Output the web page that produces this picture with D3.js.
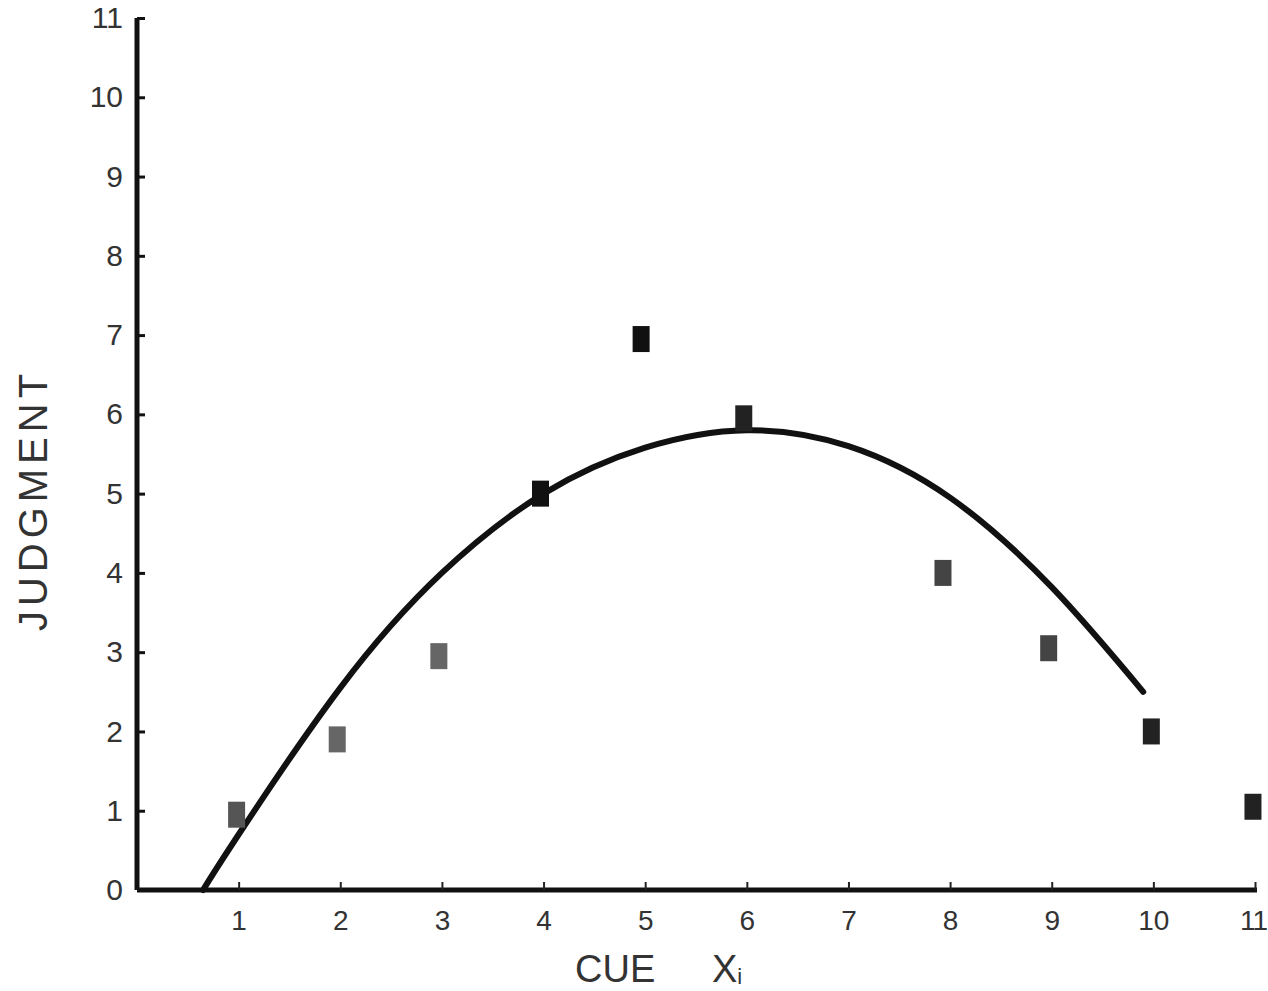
<!DOCTYPE html>
<html>
<head>
<meta charset="utf-8">
<script src="https://cdn.jsdelivr.net/npm/d3@7"></script>
<style>
  body { margin: 0; background: #fff; }
  .axis text { font-family: "Liberation Sans Narrow", "Liberation Sans", sans-serif; fill: #333; }
</style>
</head>
<body>
<div id="chart"></div>
<script>
// observed judgments
var cueValues = [0.98, 1.97, 2.97, 3.97, 4.96, 5.97, 7.93, 8.97, 9.98, 10.98];
var judgments = [0.95, 1.9, 2.95, 5, 6.95, 5.95, 4.0, 3.05, 2, 1.05];
var pointShade = ["#555", "#666", "#666", "#111", "#111", "#222", "#444", "#444", "#222", "#222"];

// fitted curve
var curveX = [0.65, 1, 2, 3, 4, 5, 6, 7, 8, 9, 9.9];
var curveY = [0, 0.7, 2.55, 4.0, 5.0, 5.58, 5.8, 5.6, 4.95, 3.82, 2.5];

var xTicks = [1, 2, 3, 4, 5, 6, 7, 8, 9, 10, 11];
var yTicks = [0, 1, 2, 3, 4, 5, 6, 7, 8, 9, 10, 11];

var margin = { top: 18, left: 137, bottom: 101, right: 13 };
var width = 1268 - margin.left - margin.right;
var height = 991 - margin.top - margin.bottom;

var svg = d3.select("#chart").append("svg")
    .attr("width", 1268)
    .attr("height", 991)
    .append("g")
    .attr("transform", "translate(" + margin.left + "," + margin.top + ")");

var x = d3.scaleLinear().domain([0, 11]).range([0, 1118]);
var y = d3.scaleLinear().domain([0, 11]).range([height, 0]);

// y axis, ticks pointing inward
var yAxis = svg.append("g")
    .attr("class", "axis")
    .call(d3.axisLeft(y).tickValues(yTicks).tickSize(-8).tickPadding(14).tickFormat(d3.format("d")));
yAxis.select(".domain").attr("stroke", "#111").attr("stroke-width", 5).attr("d", "M0," + y(11) + "V" + y(0));
yAxis.selectAll(".tick line").attr("stroke", "#111").attr("stroke-width", 3);
yAxis.selectAll(".tick text").attr("font-size", 30);
yAxis.selectAll(".tick").filter(function(d) { return d === 0; }).select("line").remove();

// x axis, ticks pointing up
var xAxis = svg.append("g")
    .attr("class", "axis")
    .attr("transform", "translate(0," + height + ")")
    .call(d3.axisBottom(x).tickValues(xTicks).tickSize(-8).tickPadding(20).tickFormat(d3.format("d")));
xAxis.select(".domain").attr("stroke", "#111").attr("stroke-width", 5).attr("d", "M0,0H" + (x(11) + 2));
xAxis.selectAll(".tick line").attr("stroke", "#222").attr("stroke-width", 2);
xAxis.selectAll(".tick text").attr("font-size", 28);
xAxis.selectAll(".tick").filter(function(d) { return d === 11; }).select("text")
    .attr("letter-spacing", -1).attr("x", -2);

// fitted curve
var line = d3.line()
    .x(function(d, i) { return x(d); })
    .y(function(d, i) { return y(curveY[i]); })
    .curve(d3.curveNatural);

svg.append("path")
    .datum(curveX)
    .attr("d", line)
    .attr("fill", "none")
    .attr("stroke", "#111")
    .attr("stroke-width", 6)
    .attr("stroke-linecap", "round");

// data marks
var pw = 17, ph = 26;
svg.selectAll("rect.pt")
    .data(cueValues)
    .enter().append("rect")
    .attr("class", "pt")
    .attr("x", function(d) { return x(d) - pw / 2; })
    .attr("y", function(d, i) { return y(judgments[i]) - ph / 2; })
    .attr("width", pw)
    .attr("height", ph)
    .attr("fill", function(d, i) { return pointShade[i]; });

// axis titles
svg.append("text")
    .attr("transform", "translate(" + (-90) + "," + 482 + ") rotate(-90)")
    .attr("text-anchor", "middle")
    .attr("font-family", "Liberation Sans, sans-serif")
    .attr("font-size", 40)
    .attr("letter-spacing", 5)
    .attr("fill", "#333")
    .text("JUDGMENT");

var xt = svg.append("text")
    .attr("x", 575 - margin.left)
    .attr("y", 982 - margin.top)
    .attr("font-family", "Liberation Sans, sans-serif")
    .attr("font-size", 38)
    .attr("fill", "#333");
xt.append("tspan").text("CUE");
xt.append("tspan").attr("x", 712 - margin.left).text("X");
xt.append("tspan").attr("font-size", 22).attr("dy", 2).text("i");
</script>
</body>
</html>
